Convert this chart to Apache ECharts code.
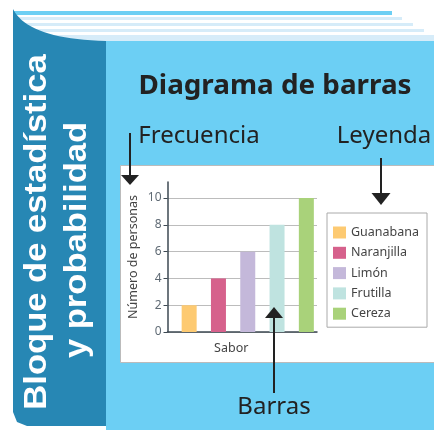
<!DOCTYPE html>
<html>
<head>
<meta charset="utf-8">
<script src="https://cdn.jsdelivr.net/npm/echarts@6/dist/echarts.min.js"></script>
<style>
  html, body { margin: 0; padding: 0; background: #fff; }
  #chart { width: 434px; height: 430px; }
</style>
</head>
<body>
<div id="chart"></div>
<script>
// datos
var sabores = ['Guanabana', 'Naranjilla', 'Limón', 'Frutilla', 'Cereza'];
var personas = [2, 4, 6, 8, 10];
var marcasY = [0, 2, 4, 6, 8, 10];

var colores = ['#fdca72', '#d6618c', '#c4b8da', '#bfe3e0', '#a9d27a'];
var celeste = '#6ccff4';
var azul = '#2787b4';
var tinta = '#222';

var chart = echarts.init(document.getElementById('chart'));

// una serie por sabor para que salga en la leyenda
var series = sabores.map(function (s, i) {
  return {
    name: s,
    type: 'bar',
    xAxisIndex: 1,
    yAxisIndex: 1,
    stack: 'todo',
    barWidth: 15,
    itemStyle: { color: colores[i] },
    data: personas.map(function (v, j) { return j === i ? v : '-' })
  }
});

// lomo del libro con la curva de arriba
var lomo = [];
for (var k = 0; k <= 20; k++) {
  var t = k / 20;
  var px = (1 - t) * (1 - t) * 13 + 2 * (1 - t) * t * 28 + t * t * 106;
  var py = (1 - t) * (1 - t) * 9 + 2 * (1 - t) * t * 39 + t * t * 41;
  lomo.push([px, py]);
}
lomo.push([106, 426]);
lomo.push([27, 426]);
lomo.push([17, 422]);
lomo.push([13, 412]);

function texto(txt, x, y, size, extra) {
  var el = {
    type: 'text',
    x: x,
    y: y,
    z: 50,
    style: {
      text: txt,
      fill: tinta,
      fontSize: size,
      fontFamily: 'Noto Sans',
      textAlign: 'center',
      textVerticalAlign: 'middle',
      align: 'center',
      verticalAlign: 'middle'
    }
  };
  if (extra) {
    for (var p in extra) el[p] = extra[p];
  }
  return el;
}

function flecha(x, y1, y2, dir, ancho, alto) {
  var punta = dir > 0
    ? [[x - ancho / 2, y2 - alto], [x + ancho / 2, y2 - alto], [x, y2]]
    : [[x - ancho / 2, y1 + alto], [x + ancho / 2, y1 + alto], [x, y1]];
  return [
    { type: 'line', z: 100, shape: { x1: x, y1: dir > 0 ? y1 : y1 + alto, x2: x, y2: dir > 0 ? y2 - alto : y2 }, style: { stroke: tinta, lineWidth: 2 } },
    { type: 'polygon', z: 100, shape: { points: punta }, style: { fill: tinta } }
  ];
}

var fondo = [
  { type: 'rect', shape: { x: 13, y: 11, width: 379, height: 4 }, style: { fill: celeste } },
  { type: 'rect', shape: { x: 13, y: 17, width: 389, height: 3 }, style: { fill: '#d6ecf9' } },
  { type: 'rect', shape: { x: 13, y: 23, width: 400, height: 3 }, style: { fill: '#d6ecf9' } },
  { type: 'rect', shape: { x: 13, y: 29, width: 411, height: 3 }, style: { fill: '#d6ecf9' } },
  { type: 'rect', shape: { x: 13, y: 35, width: 421, height: 6 }, style: { fill: '#d6ecf9' } },
  { type: 'rect', shape: { x: 106, y: 41, width: 328, height: 389 }, style: { fill: celeste } },
  { type: 'polygon', shape: { points: lomo }, style: { fill: azul } },
  { type: 'rect', shape: { x: 120.5, y: 165.5, width: 320, height: 197 }, style: { fill: '#fff', stroke: '#bbb', lineWidth: 1 } }
];

var textos = [
  texto('Diagrama de barras', 275, 87, 26, { scaleX: 1.07, style: { text: 'Diagrama de barras', fill: tinta, fontSize: 26, fontWeight: 'bold', fontFamily: 'Noto Sans', textAlign: 'center', textVerticalAlign: 'middle', align: 'center', verticalAlign: 'middle' } }),
  texto('Frecuencia', 199, 136, 24),
  texto('Leyenda', 384, 136, 24),
  texto('Barras', 274, 407, 24),
  {
    type: 'text', x: 37, y: 232, rotation: Math.PI / 2, scaleX: 1.08, z: 50,
    style: { text: 'Bloque de estadística', fill: '#fff', fontSize: 32, fontWeight: 'bold', fontFamily: 'Liberation Sans', textAlign: 'center', textVerticalAlign: 'middle', align: 'center', verticalAlign: 'middle' }
  },
  {
    type: 'text', x: 77, y: 240, rotation: Math.PI / 2, scaleX: 1.08, z: 50,
    style: { text: 'y probabilidad', fill: '#fff', fontSize: 32, fontWeight: 'bold', fontFamily: 'Liberation Sans', textAlign: 'center', textVerticalAlign: 'middle', align: 'center', verticalAlign: 'middle' }
  }
];

var flechas = []
  .concat(flecha(130, 133, 185, 1, 18, 10))
  .concat(flecha(381, 158, 205, 1, 19, 12))
  .concat(flecha(274, 307, 393, -1, 18, 11));

var option = {
  backgroundColor: '#fff',
  animation: false,
  graphic: { elements: fondo.concat(textos, flechas) },
  legend: {
    orient: 'vertical',
    left: 327,
    top: 213,
    padding: [13, 8, 7, 6],
    itemWidth: 13,
    itemHeight: 12,
    itemGap: 7.3,
    borderColor: '#aaa',
    borderWidth: 1,
    backgroundColor: '#fff',
    selectedMode: false,
    icon: 'rect',
    textStyle: { color: '#444', fontSize: 12.5, fontFamily: 'Noto Sans', lineHeight: 12 },
    data: sabores
  },
  grid: [
    { left: 167.5, right: 117, top: 182, bottom: 98 },
    { left: 174.5, right: 113, top: 182, bottom: 98 }
  ],
  xAxis: [
    {
      type: 'category',
      gridIndex: 0,
      data: sabores,
      name: 'Sabor',
      nameLocation: 'middle',
      nameGap: 10,
      nameTextStyle: { color: '#444', fontSize: 12.5, fontFamily: 'Noto Sans', verticalAlign: 'top', padding: [0, 22, 0, 0] },
      axisLine: { lineStyle: { color: '#3d4852', width: 1.5 } },
      axisTick: { show: false },
      axisLabel: { show: false }
    },
    { type: 'category', gridIndex: 1, data: sabores, show: false }
  ],
  yAxis: [
    {
      type: 'value',
      gridIndex: 0,
      min: 0,
      max: 11.2,
      interval: 2,
      name: 'Número de personas',
      nameLocation: 'middle',
      nameGap: 28,
      nameTextStyle: { color: '#444', fontSize: 12.5, fontFamily: 'Noto Sans' },
      axisLine: { show: true, lineStyle: { color: '#3d4852', width: 1.5 } },
      axisTick: { show: true, length: 4, customValues: marcasY, lineStyle: { color: '#3d4852' } },
      axisLabel: { color: '#5f6a74', fontSize: 12, fontFamily: 'Noto Sans', margin: 6, customValues: marcasY },
      splitLine: { show: true, lineStyle: { color: '#bcbcbc', width: 1.2 } }
    },
    { type: 'value', gridIndex: 1, min: 0, max: 11.2, show: false, splitLine: { show: false } }
  ],
  series: series
};

chart.setOption(option);
</script>
</body>
</html>
